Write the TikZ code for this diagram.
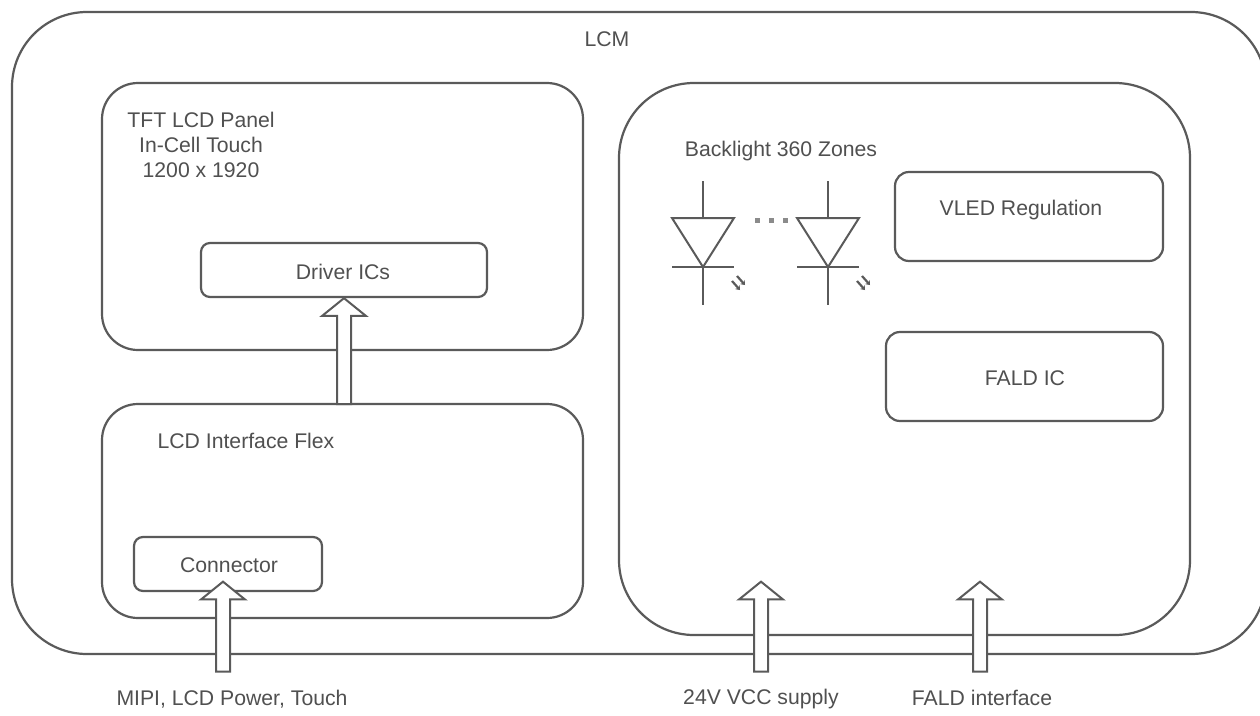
\documentclass[tikz,border=0pt]{standalone}
\usepackage{fontspec}
\setmainfont{Liberation Sans}
\usetikzlibrary{shapes.arrows,arrows.meta}
\definecolor{ln}{HTML}{5A5A5A}
\definecolor{tx}{HTML}{505050}
\tikzset{
  x=1pt,y=-1pt,
  lbl/.style={text=tx,font=\fontsize{21.2}{25}\selectfont,align=center,inner sep=0pt},
  bx/.style={draw=ln,line width=2.2pt,fill=none,inner sep=0pt},
  wire/.style={draw=ln,line width=2pt},
  upar/.style={single arrow,draw=ln,fill=white,line width=2pt,shape border rotate=90,inner sep=6pt,
     single arrow head extend=15pt,single arrow tip angle=102,minimum width=44pt,anchor=center},
  glow/.style={draw=ln,line width=2.2pt,-{Stealth[length=4pt,width=6pt]}},
}
\newcommand{\diode}[2]{%
  \coordinate (#1top) at (#2,181);
  \coordinate (#1tl) at (#2-31,218);
  \coordinate (#1tr) at (#2+31,218);
  \coordinate (#1tm) at (#2,218);
  \coordinate (#1bm) at (#2,267);
  \coordinate (#1bl) at (#2-31,267);
  \coordinate (#1br) at (#2+31,267);
  \coordinate (#1end) at (#2,305);
  \draw[wire] (#1top) -- (#1tm);
  \draw[wire,line join=miter] (#1tl) -- (#1tr) -- (#1bm) -- cycle;
  \draw[wire] (#1bl) -- (#1br);
  \draw[wire] (#1bm) -- (#1end);
  \draw[glow] (#2+29,281) -- (#2+37,290);
  \draw[glow] (#2+34,276) -- (#2+42,285);
}
\begin{document}
\begin{tikzpicture}
\useasboundingbox (0,0) rectangle (1260,715);
\fill[white] (0,0) rectangle (1260,715);
\draw[bx,rounded corners=75pt] (12,12) rectangle (1266,654);
\node[lbl] (lcm) at (607,39) {LCM};
\draw[bx,rounded corners=36pt] (102,83) rectangle (583,350);
\node[lbl] (panel) at (201,145) {TFT LCD Panel\\In-Cell Touch\\1200 x 1920};
\node[bx,rounded corners=9pt,minimum width=286pt,minimum height=54pt] (drv) at (344,270) {};
\node[lbl] at (343,272) {Driver ICs};
\draw[bx,rounded corners=36pt] (102,404) rectangle (583,618);
\node[lbl] (flex) at (246,441) {LCD Interface Flex};
\node[bx,rounded corners=9pt,minimum width=188pt,minimum height=54pt] (conn) at (228,564) {};
\node[lbl] at (229,565) {Connector};
\node[bx,rounded corners=75pt,minimum width=571pt,minimum height=552pt] (bl) at (904.5,359) {};
\node[lbl] (bltxt) at (781,151.5) {Backlight 360 Zones};
\diode{a}{703}
\diode{b}{828}
\foreach \px in {757,771,785} \fill[ln!70] (\px-2.5,218) rectangle (\px+2.5,223);
\node[bx,rounded corners=14pt,minimum width=268pt,minimum height=89pt] (vled) at (1029,216.5) {};
\node[lbl] at (1021,210) {VLED Regulation};
\node[bx,rounded corners=14pt,minimum width=277pt,minimum height=89pt] (fald) at (1024.5,376.5) {};
\node[lbl] at (1025,378) {FALD IC};
\node[upar,minimum height=90pt] (a1) at (223,629.5) {};
\node[upar,minimum height=106pt] (a2) at (344,354) {};
\node[upar,minimum height=90pt] (a3) at (761,629.5) {};
\node[upar,minimum height=90pt] (a4) at (980,629.5) {};
\node[lbl] (t1) at (232,699.5) {MIPI, LCD Power, Touch};
\node[lbl] (t2) at (761,699.5) {24V VCC supply};
\node[lbl] (t3) at (982,698) {FALD interface};
\end{tikzpicture}
\end{document}
